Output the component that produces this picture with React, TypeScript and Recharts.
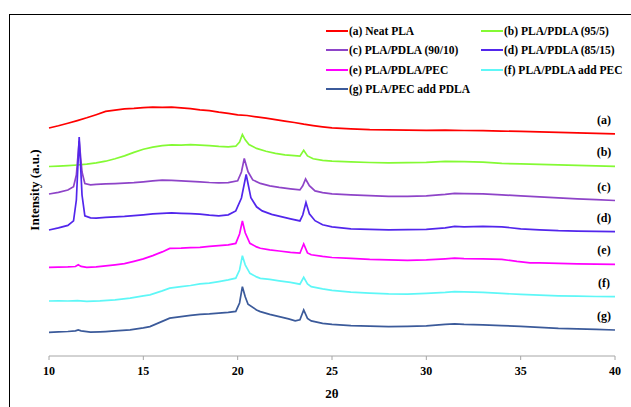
import { LineChart, Line, XAxis, YAxis } from "recharts";

const W = 631;
const H = 407;
const serif = '"Liberation Serif", "Times New Roman", serif';

type Pt = [number, number];

const xTicks = [10, 15, 20, 25, 30, 35, 40];

// 2θ vs intensity (a.u., already offset per curve)
const neatPla: Pt[] = [
  [10, 228], [10.5, 230.2], [11, 232.8], [11.5, 235.4], [12, 238.2], [12.5, 241.3], [13, 244.6],
  [13.5, 245.8], [14, 247.2], [14.5, 247.6], [15, 248.3], [15.5, 248.9], [16, 248.6], [16.5, 248.9],
  [17, 248.1], [17.5, 247.4], [18, 246.2], [18.5, 245.3], [19, 243.8], [19.5, 242.6], [20, 241.2],
  [20.5, 240.5], [21, 239.1], [21.5, 237.8], [22, 236.4], [22.5, 234.9], [23, 233.5], [23.5, 231.8],
  [24, 230.4], [24.5, 229.2], [25, 228.1], [26, 227.2], [27, 226.4], [28, 226.1], [29, 225.8],
  [30, 225.7], [31, 225.9], [32, 225.5], [33, 225.4], [34, 224.9], [35, 224.6], [36, 224.1],
  [37, 223.6], [38, 223.2], [39, 222.6], [40, 222.1],
];

const pdla95: Pt[] = [
  [10, 189.5], [10.5, 189.9], [11, 190.4], [11.5, 191], [12, 191.8], [12.5, 193.1], [13, 194.8],
  [13.5, 197.2], [14, 200.1], [14.5, 203.6], [15, 206.8], [15.5, 208.9], [16, 210.4], [16.5, 211.2],
  [17, 210.8], [17.5, 211.3], [18, 210.9], [18.5, 210.4], [19, 209.6], [19.5, 209.2], [19.9, 209.8],
  [20.1, 214], [20.25, 221.5], [20.4, 216.2], [20.6, 211.4], [21, 207.6], [21.5, 204.7], [22, 202.6],
  [22.5, 201.2], [23, 200.3], [23.3, 199.8], [23.5, 205.8], [23.7, 200.1], [24, 197.2], [24.5, 195.6],
  [25, 194.8], [26, 194.1], [27, 193.5], [28, 193.2], [29, 193.3], [30, 193.6], [31, 194.6],
  [32, 194.4], [33, 193.8], [34, 192.6], [35, 192.1], [36, 191.6], [37, 191.1], [38, 190.6],
  [39, 190.1], [40, 189.6],
];

const pdla90: Pt[] = [
  [10, 162], [10.5, 163.6], [11, 166], [11.3, 169.2], [11.45, 181], [11.6, 215], [11.75, 184],
  [11.9, 172.5], [12.2, 171.2], [12.5, 171.6], [13, 172.1], [13.5, 172.4], [14, 172.8], [14.5, 173.3],
  [15, 174.2], [15.5, 175.1], [16, 175.8], [16.5, 175.6], [17, 175.1], [17.5, 174.6], [18, 174.2],
  [18.5, 173.5], [19, 173.1], [19.5, 173.3], [20, 175.2], [20.2, 184], [20.35, 197.5], [20.55, 184.2],
  [20.8, 176.1], [21.2, 172.6], [21.7, 170.1], [22.2, 168.6], [22.8, 167.2], [23.3, 166.1],
  [23.45, 170.2], [23.6, 177], [23.8, 170.3], [24.1, 165.1], [24.5, 163.4], [25, 162.1], [26, 161.2],
  [27, 160.3], [28, 159.6], [29, 159.6], [30, 160.1], [31, 161.6], [31.5, 162.6], [32, 162.4],
  [33, 162.1], [34, 161.1], [35, 160.2], [36, 159.1], [37, 158.2], [38, 157.1], [39, 156.4], [40, 155.5],
];

const pdla85: Pt[] = [
  [10, 126], [10.5, 128.1], [11, 130.6], [11.3, 135.2], [11.45, 156], [11.6, 219], [11.75, 161],
  [11.9, 140.2], [12.2, 138.1], [12.5, 137.8], [13, 138.6], [13.5, 139.1], [14, 139.6], [14.5, 140.4],
  [15, 141.2], [15.5, 142.1], [16, 142.6], [16.5, 143.1], [17, 142.7], [17.5, 142.3], [18, 141.9],
  [18.5, 140.8], [19, 140.1], [19.5, 141.2], [19.9, 145.1], [20.2, 158], [20.45, 181.5], [20.7, 158.3],
  [21, 149.2], [21.3, 145.1], [21.8, 141.6], [22.3, 139.4], [22.8, 137.2], [23.3, 135.1], [23.45, 141],
  [23.62, 153.5], [23.8, 142.2], [24.1, 135.3], [24.5, 131.2], [25, 129.1], [26, 127.2], [27, 126.6],
  [28, 126.1], [29, 126.3], [30, 126.6], [31, 128.2], [31.5, 129.6], [32, 129.1], [33, 129.7],
  [34, 129.2], [35, 127.1], [36, 126.2], [37, 125.3], [38, 124.9], [39, 124.6], [40, 124.3],
];

const pdlaPec: Pt[] = [
  [10, 88.7], [10.5, 88.9], [11, 89.1], [11.4, 89.5], [11.55, 91.2], [11.7, 89.6], [12, 88.7],
  [12.5, 89.1], [13, 90.1], [13.5, 91.2], [14, 92.3], [14.5, 94.6], [15, 97.1], [15.5, 100.4],
  [16, 104.1], [16.4, 107.6], [17, 107.8], [17.5, 108.4], [18, 108.7], [18.5, 109.6], [19, 110.4],
  [19.5, 111.1], [19.9, 112.6], [20.1, 122], [20.25, 135], [20.4, 123.2], [20.65, 112.7], [21, 109.1],
  [21.2, 107.7], [21.7, 106.1], [22.2, 105], [22.8, 103.6], [23.3, 102.8], [23.5, 112], [23.7, 103.1],
  [23.9, 101.2], [24.5, 99.6], [25, 98.5], [26, 97.6], [27, 96.6], [28, 96.1], [29, 95.6], [30, 96.1],
  [31, 97.1], [31.5, 97.8], [32, 97.4], [33, 97.1], [34, 96.6], [34.8, 94.6], [35.5, 93.2], [36, 93.1],
  [37, 92.6], [38, 92.1], [39, 91.9], [40, 91.7],
];

const pdlaAddPec: Pt[] = [
  [10, 55], [10.5, 55.2], [11, 55], [11.5, 55.3], [12, 54.6], [12.7, 55.1], [13.5, 56.1], [14.3, 57.8],
  [15, 60.1], [15.35, 61.2], [16, 65.1], [16.4, 67.8], [17, 69.4], [17.5, 70.5], [18, 72.1],
  [18.5, 72.8], [19, 74.4], [19.5, 76.1], [19.9, 77.8], [20.1, 86], [20.25, 100.3], [20.4, 91.2],
  [20.65, 82.7], [21, 79.1], [21.2, 77.6], [21.7, 76.6], [22.2, 75.2], [22.8, 73.6], [23.3, 71.8],
  [23.5, 78.7], [23.7, 72.1], [23.9, 69.3], [24.5, 67.1], [25, 65.6], [26, 63.8], [27, 62.8],
  [28, 62.1], [29, 61.9], [30, 62.6], [31, 63.6], [31.5, 64.4], [32, 64.1], [33, 63.7], [34, 62.6],
  [35, 61.6], [36, 60.8], [37, 60.1], [38, 59.8], [39, 59.5], [40, 59.3],
];

const pecAddPdla: Pt[] = [
  [10, 23.7], [10.5, 24.1], [11, 24.5], [11.4, 25.1], [11.55, 26.1], [11.7, 25.2], [12.2, 23.8],
  [12.7, 24.1], [13, 24.4], [13.5, 25.1], [14.3, 26.1], [15, 28.1], [15.35, 29.4], [16, 34.6],
  [16.4, 37.8], [17, 39.4], [17.5, 40.6], [18, 41.7], [18.5, 42.1], [19, 42.8], [19.5, 43.6],
  [19.9, 44.6], [20.1, 53], [20.25, 69.3], [20.4, 59.2], [20.55, 51.7], [21, 46.1], [21.2, 44.4],
  [21.7, 41.6], [22.2, 39.4], [22.7, 37.1], [23.05, 35.1], [23.3, 36.2], [23.5, 46], [23.7, 37.6],
  [23.9, 35.1], [24.5, 32.6], [25, 31.7], [26, 30.4], [27, 29.8], [28, 29.4], [29, 29.6], [30, 30.1],
  [31, 31.6], [31.5, 32.1], [32, 31.6], [33, 31.1], [34, 30.4], [35, 29.6], [36, 28.6], [37, 27.6],
  [38, 27.1], [39, 26.6], [40, 26],
];

const curves = [
  { tag: "(a)", name: "(a) Neat PLA", color: "#ff0000", points: neatPla },
  { tag: "(b)", name: "(b) PLA/PDLA (95/5)", color: "#84fa34", points: pdla95 },
  { tag: "(c)", name: "(c) PLA/PDLA (90/10)", color: "#8e44c8", points: pdla90 },
  { tag: "(d)", name: "(d) PLA/PDLA (85/15)", color: "#5226ec", points: pdla85 },
  { tag: "(e)", name: "(e) PLA/PDLA/PEC", color: "#ff00ff", points: pdlaPec },
  { tag: "(f)", name: "(f) PLA/PDLA add PEC", color: "#5ef7f7", points: pdlaAddPec },
  { tag: "(g)", name: "(g) PLA/PEC add PDLA", color: "#3b5a9a", points: pecAddPdla },
];

function CurveTag({ x, y, index, last, text }: any) {
  if (index !== last) return null;
  return (
    <text
      x={x - 11}
      y={y - 14}
      textAnchor="middle"
      dominantBaseline="central"
      fontFamily={serif}
      fontWeight="bold"
      fontSize={12}
      fill="#000"
    >
      {text}
    </text>
  );
}

export default function App() {
  return (
    <div
      style={{
        position: "relative",
        width: W,
        height: H,
        overflow: "hidden",
        background: "#fff",
        fontFamily: serif,
      }}
    >
      <style>{`body{margin:0}`}</style>
      <div
        style={{
          position: "absolute",
          left: 9,
          top: 14,
          width: 700,
          height: 500,
          border: "1.5px solid #000",
        }}
      />
      <div style={{ position: "absolute", left: 0, top: 0 }}>
        <LineChart width={W} height={H} margin={{ top: 16, right: 16, bottom: 21, left: 49 }}>
          <XAxis
            type="number"
            dataKey="t"
            domain={[10, 40]}
            ticks={xTicks}
            height={30}
            stroke="#a6a6a6"
            tickSize={4}
            tickMargin={6}
            tick={{ fill: "#000", fontFamily: serif, fontWeight: "bold", fontSize: 12 }}
            label={{
              value: "2θ",
              position: "bottom",
              offset: 3,
              style: { fill: "#000", fontFamily: serif, fontWeight: "bold", fontSize: 13 },
            }}
          />
          <YAxis hide type="number" domain={[0, 340]} />
          {curves.map((c) => (
            <Line
              key={c.tag}
              data={c.points.map(([t, i]) => ({ t, i }))}
              dataKey="i"
              type="linear"
              stroke={c.color}
              strokeWidth={1.7}
              dot={false}
              activeDot={false}
              isAnimationActive={false}
              label={(p: any) => (
                <CurveTag key={`${c.tag}-${p.index}`} {...p} last={c.points.length - 1} text={c.tag} />
              )}
            />
          ))}
        </LineChart>
      </div>

      {/* legend, two columns */}
      {curves.map((c, i) => {
        const col = i % 2;
        const row = Math.floor(i / 2);
        const lineX = col === 0 ? 326 : 481;
        const cy = 30.5 + row * 19.5;
        return (
          <div key={c.name}>
            <div
              style={{
                position: "absolute",
                left: lineX,
                top: cy - 1,
                width: 22,
                height: 2,
                background: c.color,
              }}
            />
            <div
              style={{
                position: "absolute",
                left: lineX + 23,
                top: cy - 8,
                height: 16,
                lineHeight: "16px",
                fontSize: 11.5,
                fontWeight: "bold",
                whiteSpace: "nowrap",
                color: "#000",
              }}
            >
              {c.name}
            </div>
          </div>
        );
      })}

      <div
        style={{
          position: "absolute",
          left: 35,
          top: 190,
          transform: "translate(-50%, -50%) rotate(-90deg)",
          fontSize: 13,
          fontWeight: "bold",
          whiteSpace: "nowrap",
          color: "#000",
        }}
      >
        Intensity (a.u.)
      </div>
    </div>
  );
}
